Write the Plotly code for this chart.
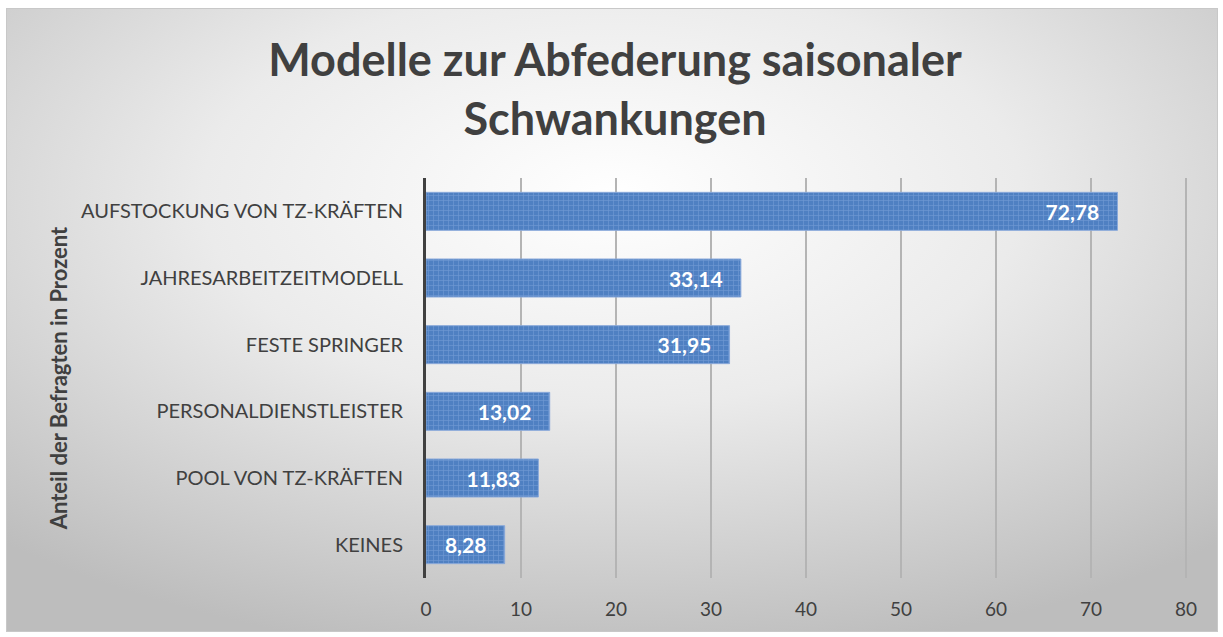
import base64
import plotly.graph_objects as go

categories = [
    "AUFSTOCKUNG VON TZ-KRÄFTEN",
    "JAHRESARBEITZEITMODELL",
    "FESTE SPRINGER",
    "PERSONALDIENSTLEISTER",
    "POOL VON TZ-KRÄFTEN",
    "KEINES",
]
values = [72.78, 33.14, 31.95, 13.02, 11.83, 8.28]
x_ticks = [0, 10, 20, 30, 40, 50, 60, 70, 80]

W, H = 1223, 637
L, R, T, B = 426, 35, 178, 59
pw, ph = W - L - R, H - T - B

svg = (
    '<svg xmlns="http://www.w3.org/2000/svg" width="1212" height="624" viewBox="0 0 1212 624" preserveAspectRatio="none">'
    '<defs><radialGradient id="g" cx="0.5" cy="0.3" r="0.75" fx="0.5" fy="0.3">'
    '<stop offset="0" stop-color="#ffffff"/><stop offset="0.45" stop-color="#ebebeb"/>'
    '<stop offset="1" stop-color="#bdbdbd"/></radialGradient></defs>'
    '<rect x="0" y="0" width="1212" height="624" fill="url(#g)" stroke="#c8c8c8" stroke-width="2"/></svg>'
)
src = "data:image/svg+xml;base64," + base64.b64encode(svg.encode()).decode()

FONT = "Lato, Open Sans, sans-serif"

fig = go.Figure()
fig.add_trace(go.Bar(
    y=categories,
    x=values,
    orientation="h",
    marker=dict(
        color="#4f80c2",
        line=dict(color="#8aa9da", width=1),
        pattern=dict(shape="+", fgcolor="#8db0e3", size=5, solidity=0.25),
    ),
    texttemplate="%{x:.2f}&nbsp;&nbsp;&nbsp;",
    textposition="inside",
    insidetextanchor="end",
    textfont=dict(family=FONT, size=21, color="white", weight="bold"),
    hoverinfo="skip",
))

fig.update_layout(
    width=W, height=H,
    margin=dict(l=L, r=R, t=T, b=B, autoexpand=False),
    separators=",.",
    paper_bgcolor="white",
    plot_bgcolor="rgba(0,0,0,0)",
    bargap=0.43,
    showlegend=False,
    title=dict(
        text="Modelle zur Abfederung saisonaler<br>Schwankungen",
        x=615 / W, xanchor="center",
        y=1 - 76 / H, yanchor="middle",
        font=dict(family=FONT, size=45, color="#404040", weight="bold"),
    ),
    font=dict(family=FONT, color="#404040"),
    images=[dict(
        source=src, xref="paper", yref="paper",
        x=(6 - L) / pw, y=(H - B - 8) / ph,
        sizex=1212 / pw, sizey=624 / ph,
        xanchor="left", yanchor="top", sizing="stretch", layer="below",
    )],
    xaxis=dict(
        range=[0, 80.2], tickvals=x_ticks, showgrid=True,
        gridcolor="#b4b4b4", gridwidth=2, zeroline=False,
        showline=False, ticks="", ticklabelstandoff=18,
        tickfont=dict(size=19, color="#404040"),
        fixedrange=True,
    ),
    yaxis=dict(
        categoryorder="array", categoryarray=categories, autorange="reversed",
        showline=True, linecolor="#404040", linewidth=3,
        showgrid=False, ticks="", ticklabelstandoff=16,
        tickfont=dict(size=20, color="#404040"),
        title=dict(text="<b>Anteil der Befragten in Prozent</b>", standoff=8,
                   font=dict(size=22, color="#404040")),
        automargin=False, fixedrange=True,
    ),
)

fig.write_html("out.html", config={"displayModeBar": False},
               post_script="document.body.style.margin='0';")
